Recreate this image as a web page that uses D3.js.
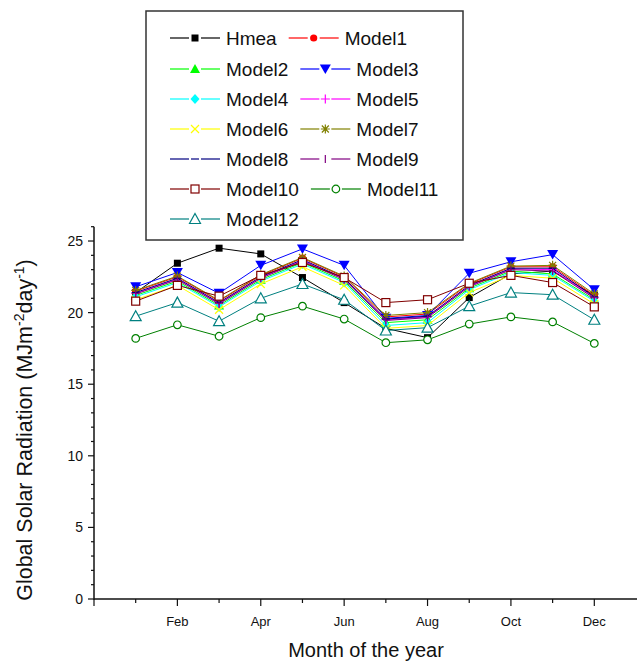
<!DOCTYPE html>
<html>
<head>
<meta charset="utf-8">
<script src="https://cdn.jsdelivr.net/npm/d3@7/dist/d3.min.js"></script>
<style>
html,body{margin:0;padding:0;background:#fff;}
svg{display:block;font-family:"Liberation Sans",Arial,sans-serif;}
</style>
</head>
<body>
<svg id="chart" width="637" height="662"></svg>
<script>
const months = [1,2,3,4,5,6,7,8,9,10,11,12];
const tickLabels = ["Feb","Apr","Jun","Aug","Oct","Dec"];
const tickMonths = [2,4,6,8,10,12];
const yTicks = [0,5,10,15,20,25];

const hmea    = [21.4,23.45,24.5,24.1,22.45,20.7,18.9,18.25,21.05,22.7,22.9,21.2];
const model1  = [21.5,22.5,20.8,22.6,23.8,22.5,19.7,19.9,22.0,23.2,23.2,21.2];
const model2  = [21.2,22.2,20.5,22.3,23.5,22.2,19.3,19.5,21.7,22.9,22.7,20.9];
const model3  = [21.8,22.8,21.35,23.3,24.45,23.3,19.6,19.8,22.75,23.55,24.05,21.6];
const model4  = [21.1,22.1,20.4,22.2,23.4,22.1,19.1,19.3,21.6,22.8,22.6,20.8];
const model5  = [21.35,22.35,20.65,22.45,23.65,22.35,19.5,19.7,21.85,23.05,23.0,21.05];
const model6  = [20.9,21.9,20.2,22.0,23.2,21.9,18.9,19.1,21.4,22.6,22.4,20.6];
const model7  = [21.55,22.55,20.85,22.65,23.85,22.55,19.8,20.0,22.05,23.25,23.3,21.3];
const model8  = [21.4,22.4,20.7,22.5,23.7,22.4,19.55,19.75,21.9,23.1,23.1,21.1];
const model9  = [21.3,22.3,20.6,22.4,23.6,22.3,19.45,19.65,21.8,23.0,22.9,21.0];
const model10 = [20.8,21.9,21.15,22.6,23.5,22.45,20.7,20.9,22.05,22.6,22.1,20.4];
const model11 = [18.2,19.15,18.35,19.65,20.45,19.55,17.9,18.1,19.2,19.7,19.35,17.85];
const model12 = [19.75,20.7,19.4,21.0,22.0,20.9,18.75,18.95,20.45,21.4,21.25,19.5];

const seriesNames = ["Hmea","Model1","Model2","Model3","Model4","Model5","Model6","Model7","Model8","Model9","Model10","Model11","Model12"];
const seriesValues = [hmea,model1,model2,model3,model4,model5,model6,model7,model8,model9,model10,model11,model12];
const seriesColors = ["#000000","#FF0000","#00FF00","#0000FF","#00FFFF","#FF00FF","#FFFF00","#808000","#000080","#800080","#800000","#008000","#008080"];
const seriesMarkers = ["sqF","cirF","triUpF","triDnF","diaF","plus","cross","star","dash","vbar","sqO","cirO","triUpO"];

const svg = d3.select("#chart");
const x = d3.scaleLinear().domain([0,13]).range([94,636]);
const y = d3.scaleLinear().domain([0,26]).range([599,226.7]);

function drawMarker(g, type, cx, cy, color) {
  const m = g.append("g").attr("transform", `translate(${cx},${cy})`);
  const sw = 1.2;
  switch(type){
    case "sqF": m.append("rect").attr("x",-3.5).attr("y",-3.5).attr("width",7).attr("height",7).attr("fill",color); break;
    case "cirF": m.append("circle").attr("r",3.6).attr("fill",color); break;
    case "triUpF": m.append("path").attr("d","M0,-5L5,4L-5,4Z").attr("fill",color); break;
    case "triDnF": m.append("path").attr("d","M-5.5,-4.5L5.5,-4.5L0,5Z").attr("fill",color); break;
    case "diaF": m.append("path").attr("d","M0,-5L4.5,0L0,5L-4.5,0Z").attr("fill",color); break;
    case "plus": m.append("path").attr("d","M-4.5,0H4.5M0,-4.5V4.5").attr("stroke",color).attr("stroke-width",sw).attr("fill","none"); break;
    case "cross": m.append("path").attr("d","M-4,-4L4,4M-4,4L4,-4").attr("stroke",color).attr("stroke-width",sw).attr("fill","none"); break;
    case "star": m.append("path").attr("d","M-4.5,0H4.5M0,-4.5V4.5M-3.5,-3.5L3.5,3.5M-3.5,3.5L3.5,-3.5").attr("stroke",color).attr("stroke-width",sw).attr("fill","none"); break;
    case "dash": m.append("path").attr("d","M-4,0H4").attr("stroke",color).attr("stroke-width",sw).attr("fill","none"); break;
    case "vbar": m.append("path").attr("d","M0,-4V4").attr("stroke",color).attr("stroke-width",sw).attr("fill","none"); break;
    case "sqO": m.append("rect").attr("x",-4).attr("y",-4).attr("width",8).attr("height",8).attr("fill","#fff").attr("stroke",color).attr("stroke-width",sw); break;
    case "cirO": m.append("circle").attr("r",3.8).attr("fill","#fff").attr("stroke",color).attr("stroke-width",sw); break;
    case "triUpO": m.append("path").attr("d","M0,-5.5L5.5,4.5L-5.5,4.5Z").attr("fill","#fff").attr("stroke",color).attr("stroke-width",sw); break;
  }
}

// Axes
const xAxisG = svg.append("g").attr("transform","translate(0,599)");
xAxisG.append("line").attr("x1",94).attr("x2",637).attr("y1",0).attr("y2",0).attr("stroke","#111").attr("stroke-width",1.5);
d3.range(0,13).forEach(m=>{
  const major = (m % 2 === 0);
  xAxisG.append("line").attr("x1",x(m)).attr("x2",x(m)).attr("y1",0).attr("y2",major?7:4).attr("stroke","#111").attr("stroke-width",1.2);
});
tickMonths.forEach((m,i)=>{
  xAxisG.append("text").attr("x",x(m)).attr("y",27).attr("text-anchor","middle").attr("font-size",13).attr("fill","#111").text(tickLabels[i]);
});

const yAxisG = svg.append("g");
yAxisG.append("line").attr("x1",94).attr("x2",94).attr("y1",y(26)).attr("y2",599.7).attr("stroke","#111").attr("stroke-width",1.5);
d3.range(0,27).forEach(v=>{
  const major = (v % 5 === 0);
  yAxisG.append("line").attr("x1",94).attr("x2",major?88:91).attr("y1",y(v)).attr("y2",y(v)).attr("stroke","#111").attr("stroke-width",1.2);
});
yTicks.forEach(v=>{
  yAxisG.append("text").attr("x",83).attr("y",y(v)+5).attr("text-anchor","end").attr("font-size",14).attr("fill","#111").text(v);
});

// Axis titles
svg.append("text").attr("x",366).attr("y",657).attr("text-anchor","middle").attr("font-size",20).attr("fill","#111").text("Month of the year");
const yt = svg.append("text").attr("transform","translate(32,430) rotate(-90)").attr("text-anchor","middle").attr("font-size",21.5).attr("fill","#111");
yt.append("tspan").text("Global Solar Radiation (MJm");
yt.append("tspan").attr("dy",-8).attr("font-size",14).text("-2");
yt.append("tspan").attr("dy",8).text("day");
yt.append("tspan").attr("dy",-8).attr("font-size",14).text("-1");
yt.append("tspan").attr("dy",8).text(")");

// Series
const line = d3.line().x((d,i)=>x(months[i])).y(d=>y(d));
const plotG = svg.append("g");
seriesValues.forEach((vals,si)=>{
  const g = plotG.append("g");
  g.append("path").attr("d",line(vals)).attr("fill","none").attr("stroke",seriesColors[si]).attr("stroke-width",1);
  vals.forEach((v,i)=>{
    drawMarker(g, seriesMarkers[si], x(months[i]), y(v), seriesColors[si]);
  });
});

// Legend
const leg = svg.append("g");
leg.append("rect").attr("x",146).attr("y",11).attr("width",317).attr("height",229).attr("fill","#fff").attr("stroke","#333").attr("stroke-width",1.5);
const rows = [[0,1],[2,3],[4,5],[6,7],[8,9],[10,11],[12]];
const rowY = [38,69,99,129,159,189,219];
rows.forEach((r,ri)=>{
  let startX = 170;
  r.forEach((si,k)=>{
    const cy = rowY[ri];
    const col = seriesColors[si];
    leg.append("line").attr("x1",startX).attr("x2",startX+19).attr("y1",cy).attr("y2",cy).attr("stroke",col).attr("stroke-width",1.2);
    leg.append("line").attr("x1",startX+31).attr("x2",startX+50).attr("y1",cy).attr("y2",cy).attr("stroke",col).attr("stroke-width",1.2);
    drawMarker(leg, seriesMarkers[si], startX+25, cy, col);
    const t = leg.append("text").attr("x",startX+56).attr("y",cy+7).attr("font-size",19).attr("fill","#111").text(seriesNames[si]);
    const w = t.node().getComputedTextLength();
    startX = startX + 56 + w + 12;
  });
});
</script>
</body>
</html>
